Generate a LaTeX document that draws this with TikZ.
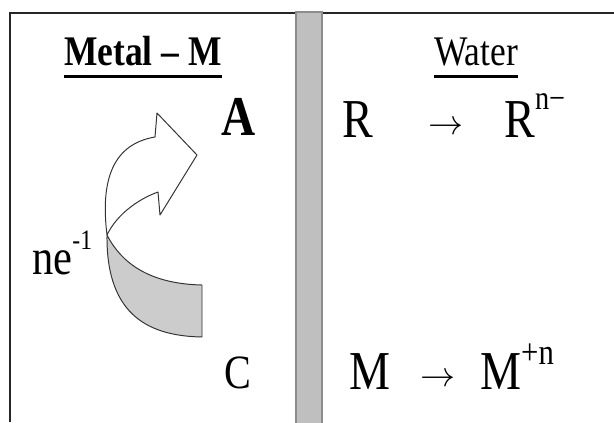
\documentclass[tikz,border=0pt]{standalone}
\usepackage{fontspec}
\setmainfont{Liberation Serif}[FakeStretch=0.84]
\usepackage{tikz}
\usetikzlibrary{arrows.meta, positioning, calc}

\begin{document}
\begin{tikzpicture}[
    heading/.style={inner sep=0pt, anchor=base, font=\fontsize{30}{36}\selectfont},
    label/.style={inner sep=0pt, anchor=base west, font=\fontsize{39}{46}\selectfont},
    ribbon/.style={draw=black!80, line width=0.7pt, line join=round}
]
\useasboundingbox (0, 0) rectangle (15.35, 10.55);

% Frame and separator
\draw[line width=1.3pt, black!85] (0.25, 0) -- (0.25, 10.225) -- (15.35, 10.225);
\draw[fill=black!25, draw=black!45, line width=0.8pt] (7.4, -0.1) rectangle (8.05, 10.25);

% Headings
\node[heading] (metal) at (3.575, 8.925) {\textbf{Metal – M}};
\node[heading] (water) at (11.9, 8.925) {Water};
\draw[line width=2.4pt] ($(metal.base west) + (0, -0.28)$) -- ($(metal.base east) + (0, -0.28)$);
\draw[line width=2.4pt] ($(water.base west) + (0, -0.28)$) -- ($(water.base east) + (0, -0.28)$);

% Metal side
\node[label, anchor=base, font=\fontsize{40}{46}\selectfont\bfseries] (anode) at (5.975, 7.175) {A};
\node[label, anchor=base, font=\fontsize{34}{40}\selectfont] (cathode) at (5.95, 0.85) {C};
\node[label, font=\fontsize{36}{42}\selectfont] (ne) at (0.8, 3.7) {ne\raisebox{0.62cm}{\fontsize{20}{20}\selectfont -1}};

% Curved ribbon arrow
\draw[ribbon, fill=white] (2.675, 4.675) .. controls (2.5, 6.1) and (2.85, 6.95) .. (3.875, 7.125)
    -- (3.925, 7.725) -- (4.925, 6.675) -- (4.0, 5.175) -- (3.95, 5.75)
    .. controls (3.4, 5.55) and (2.9, 5.15) .. cycle;
\draw[ribbon, fill=black!20] (2.675, 4.675) .. controls (3.1, 3.85) and (3.9, 3.45) .. (5.05, 3.425)
    -- (5.05, 2.125) .. controls (3.8, 2.15) and (2.65, 2.6) .. cycle;

% Water side
\node[label] (rin) at (8.55, 7.125) {R};
\node[label, anchor=base, font=\fontsize{28}{34}\selectfont] (rarrow) at (11.15, 7.2) {$\rightarrow$};
\node[label] (rout) at (12.6, 7.125) {R\raisebox{0.68cm}{\fontsize{24}{24}\selectfont n−}};
\node[label] (min) at (8.725, 0.825) {M};
\node[label, anchor=base, font=\fontsize{28}{34}\selectfont] (marrow) at (10.95, 0.9) {$\rightarrow$};
\node[label] (mout) at (12.0, 0.825) {M\raisebox{0.62cm}{\fontsize{26}{26}\selectfont +n}};

\end{tikzpicture}
\end{document}
